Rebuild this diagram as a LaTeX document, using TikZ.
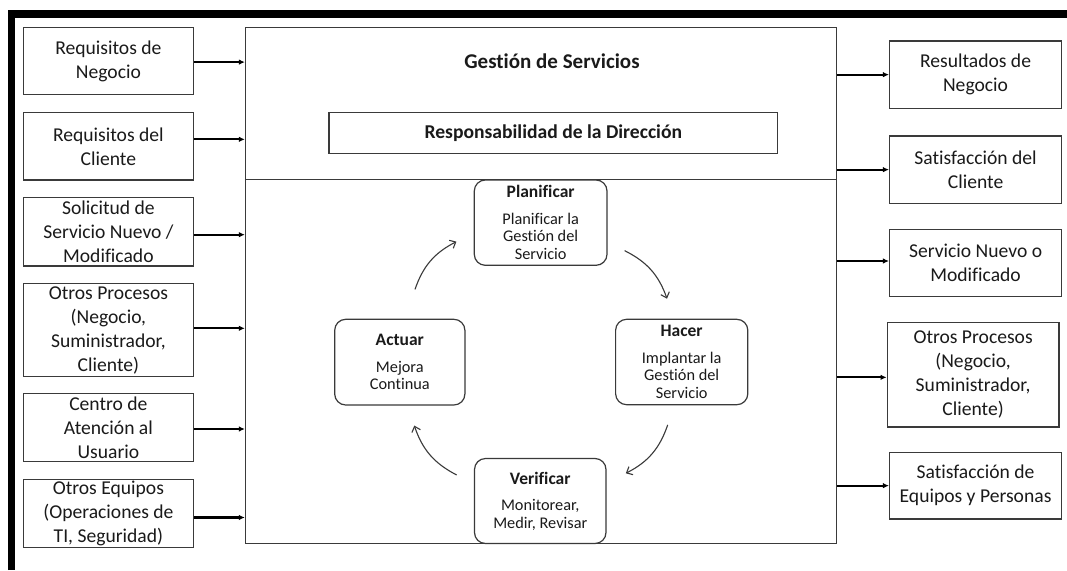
\documentclass[tikz,border=0pt]{standalone}
\usepackage{fontspec}
\setmainfont{Carlito}[Ligatures={NoCommon}]
\usetikzlibrary{arrows.meta,calc}
\definecolor{boxgray}{HTML}{3A3A3A}
\definecolor{txt}{HTML}{1A1A1A}
\newcommand\pdcahead[1]{{\bfseries\fontsize{17.5}{17.5}\selectfont #1}}
\begin{document}
\begin{tikzpicture}[x=1pt,y=-1pt,
  sidebox/.style={draw=boxgray, line width=1.2pt, rectangle, inner sep=0pt, align=center, text=txt,
    font=\fontsize{19.6}{24}\selectfont},
  bigbox/.style={draw=boxgray, line width=1.2pt, rectangle, inner sep=0pt},
  pdca/.style={draw=boxgray, line width=1.2pt, rectangle, rounded corners=11pt, inner sep=0pt, align=center, text=txt,
    font=\fontsize{16.3}{17.5}\selectfont},
  inarrow/.style={line width=2.2pt, black, -{Latex[length=6pt,width=5.5pt]}},
  cyclearrow/.style={line width=1.1pt, boxgray, -{Straight Barb[length=5pt,width=9pt]}, bend left=22},
]
\useasboundingbox (0,0) rectangle (1067,570);
\fill[white] (0,0) rectangle (1067,570);
% thick frame
\draw[line width=7.6pt, black] (11.5,570) -- (11.5,13.7) -- (1067,13.7);

% left inputs
\node[sidebox, minimum width=170pt, minimum height=67pt]   (L1) at (108.4,61.2)  {Requisitos de\\Negocio};
\node[sidebox, minimum width=170pt, minimum height=67.3pt] (L2) at (108.4,146.35) {Requisitos del\\Cliente};
\node[sidebox, minimum width=170pt, minimum height=68.3pt] (L3) at (108.4,231.85) {Solicitud de\\Servicio Nuevo /\\Modificado};
\node[sidebox, minimum width=170pt, minimum height=93.4pt] (L4) at (108.4,330)   {Otros Procesos\\(Negocio,\\Suministrador,\\Cliente)};
\node[sidebox, minimum width=170pt, minimum height=68.4pt] (L5) at (108.4,427.5) {Centro de\\Atención al\\Usuario};
\node[sidebox, minimum width=170pt, minimum height=68.2pt] (L6) at (108.4,513.4) {Otros Equipos\\(Operaciones de\\TI, Seguridad)};

% main box
\node[bigbox, minimum width=591pt, minimum height=516.2pt] (main) at (541,285.4) {};
\node[font=\bfseries\fontsize{21}{24}\selectfont, text=txt] (title) at (552,61.5) {Gestión de Servicios};
\node[sidebox, font=\bfseries\fontsize{19.6}{24}\selectfont, minimum width=448.6pt, minimum height=41pt] (resp) at (553.3,133.2) {Responsabilidad de la Dirección};

% PDCA
\node[pdca, minimum width=132.7pt, minimum height=85.3pt] (plan) at (540.65,222.65)
  {\pdcahead{Planificar}\\[9pt]Planificar la\\Gestión del\\Servicio};
\node[pdca, minimum width=132.2pt, minimum height=85.4pt] (hacer) at (681.7,362)
  {\pdcahead{Hacer}\\[9pt]Implantar la\\Gestión del\\Servicio};
\node[pdca, minimum width=131.5pt, minimum height=85pt] (verif) at (540.25,501)
  {\pdcahead{Verificar}\\[9pt]Monitorear,\\Medir, Revisar};
\node[pdca, minimum width=130.2pt, minimum height=85.7pt] (actuar) at (399.8,362.15)
  {\pdcahead{Actuar}\\[9pt]Mejora\\Continua};

% divider
\draw[boxgray, line width=1.2pt] (main.west |- plan.north) -- (main.east |- plan.north);

% right outputs
\node[sidebox, minimum width=172pt, minimum height=67.3pt] (R1) at (975.55,74.65) {Resultados de\\Negocio};
\node[sidebox, minimum width=172pt, minimum height=67.3pt] (R2) at (975.55,169.65) {Satisfacción del\\Cliente};
\node[sidebox, minimum width=172pt, minimum height=67.4pt] (R3) at (975.55,263) {Servicio Nuevo o\\Modificado};
\node[sidebox, minimum width=171.8pt, minimum height=104.3pt] (R4) at (973.1,374.85) {Otros Procesos\\(Negocio,\\Suministrador,\\Cliente)};
\node[sidebox, minimum width=172pt, minimum height=66.7pt] (R5) at (975.55,485.65) {Satisfacción de\\Equipos y Personas};

% input arrows
\draw[inarrow] ([yshift=-0.9pt]L1.east) -- ([yshift=-0.9pt]L1.east -| main.west);
\draw[inarrow] ([yshift=7pt]L2.east) -- ([yshift=7pt]L2.east -| main.west);
\draw[inarrow] ([yshift=-2.85pt]L3.east) -- ([yshift=-2.85pt]L3.east -| main.west);
\draw[inarrow] ([yshift=1.7pt]L4.east) -- ([yshift=1.7pt]L4.east -| main.west);
\draw[inarrow] ([yshift=-1.5pt]L5.east) -- ([yshift=-1.5pt]L5.east -| main.west);
\draw[inarrow] ([yshift=-4.1pt]L6.east) -- ([yshift=-4.1pt]L6.east -| main.west);

% output arrows
\draw[inarrow] (R1.west -| main.east) -- (R1.west);
\draw[inarrow] (R2.west -| main.east) -- (R2.west);
\draw[inarrow] ([yshift=2pt]R3.west -| main.east) -- ([yshift=2pt]R3.west);
\draw[inarrow] ([yshift=-2.5pt]R4.west -| main.east) -- ([yshift=-2.5pt]R4.west);
\draw[inarrow] (R5.west -| main.east) -- (R5.west);

% cycle arrows
\draw[cyclearrow] ([shift={(15.2,-29.3)}]actuar.north) to ([shift={(-17.3,19)}]plan.west);
\draw[cyclearrow] ([shift={(17,28)}]plan.east) to ([shift={(-14.7,-20)}]hacer.north);
\draw[cyclearrow] ([shift={(-14,19.6)}]hacer.south) to ([shift={(19.2,-27.7)}]verif.east);
\draw[cyclearrow] ([shift={(-17.2,-26)}]verif.west) to ([shift={(14.5,20)}]actuar.south);
\end{tikzpicture}
\end{document}
